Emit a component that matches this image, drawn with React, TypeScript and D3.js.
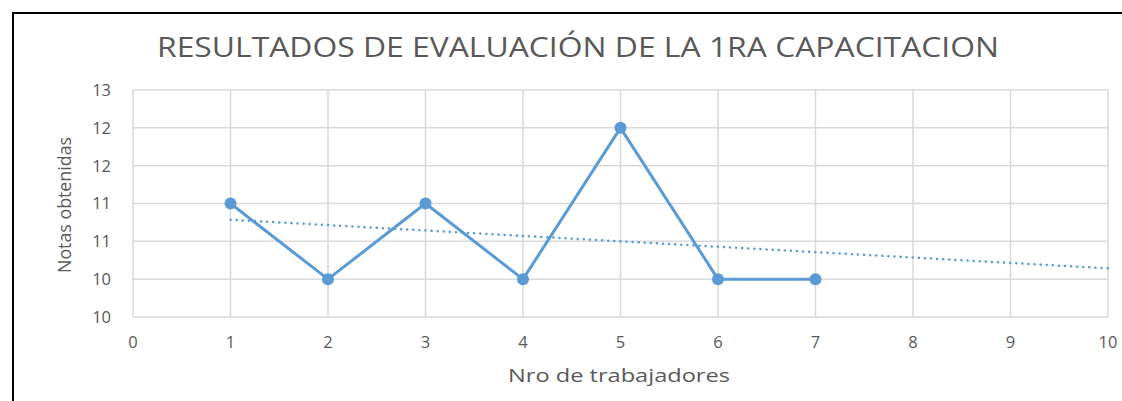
import React from "react";
import * as d3 from "d3";

const title = "RESULTADOS DE EVALUACIÓN DE LA 1RA CAPACITACION";
const xAxisTitle = "Nro de trabajadores";
const yAxisTitle = "Notas obtenidas";
const workers = [1, 2, 3, 4, 5, 6, 7];
const grades = [11.5, 10.5, 11.5, 10.5, 12.5, 10.5, 10.5];
const xTicks = [0, 1, 2, 3, 4, 5, 6, 7, 8, 9, 10];
const yTicks = [10, 10.5, 11, 11.5, 12, 12.5, 13];
const yTickLabels = ["10", "10", "11", "11", "12", "12", "13"];

const W = 1122;
const H = 401;
const color = "#5B9BD5";
const font = "'Open Sans', 'Liberation Sans', sans-serif";

export default function App() {
  const x = d3.scaleLinear().domain([0, 10]).range([133, 1108]);
  const y = d3.scaleLinear().domain([10, 13]).range([317, 90]);

  const line = d3
    .line<number>()
    .x((_, i) => x(workers[i]))
    .y((d) => y(d));

  // linear trendline (least squares) through the data
  const mx = d3.mean(workers)!;
  const my = d3.mean(grades)!;
  const sxy = d3.sum(workers.map((w, i) => (w - mx) * (grades[i] - my)));
  const sxx = d3.sum(workers.map((w) => (w - mx) ** 2));
  const slope = sxy / sxx;
  const intercept = my - slope * mx;
  const tx0 = 1;
  const tx1 = 10;

  return (
    <svg
      width={W}
      height={H}
      style={{ position: "absolute", left: 0, top: 0, background: "#fff" }}
    >
      <rect x={0} y={0} width={W} height={H} fill="#fff" />
      <rect x={13} y={13} width={W + 20} height={H + 20} fill="#fff" stroke="#000" strokeWidth={2} />
      <text
        x={578}
        y={57}
        textAnchor="middle"
        fontFamily={font}
        fontSize={26.5}
        fill="#595959"
        textLength={842}
        lengthAdjust="spacingAndGlyphs"
      >
        {title}
      </text>
      {yTicks.map((t, i) => (
        <line key={"gy" + i} x1={x(0)} x2={x(10)} y1={y(t)} y2={y(t)} stroke="#d9d9d9" strokeWidth={1.5} />
      ))}
      {xTicks.map((t, i) => (
        <line key={"gx" + i} x1={x(t)} x2={x(t)} y1={y(10)} y2={y(13)} stroke="#d9d9d9" strokeWidth={1.5} />
      ))}
      {yTicks.map((t, i) => (
        <text
          key={"ty" + i}
          x={111}
          y={y(t)}
          dy="0.36em"
          textAnchor="end"
          fontFamily={font}
          fontSize={16.5}
          fill="#595959"
        >
          {yTickLabels[i]}
        </text>
      ))}
      {xTicks.map((t, i) => (
        <text
          key={"tx" + i}
          x={x(t)}
          y={342}
          dy="0.36em"
          textAnchor="middle"
          fontFamily={font}
          fontSize={16.5}
          fill="#595959"
        >
          {t}
        </text>
      ))}
      <text
        x={619}
        y={382}
        textAnchor="middle"
        fontFamily={font}
        fontSize={17.5}
        fill="#595959"
        textLength={222}
        lengthAdjust="spacingAndGlyphs"
      >
        {xAxisTitle}
      </text>
      <text
        transform={`translate(71,${205}) rotate(-90)`}
        textAnchor="middle"
        fontFamily={font}
        fontSize={18}
        fill="#595959"
        textLength={136}
        lengthAdjust="spacingAndGlyphs"
      >
        {yAxisTitle}
      </text>
      <line
        x1={x(tx0)}
        y1={y(intercept + slope * tx0)}
        x2={x(tx1)}
        y2={y(intercept + slope * tx1)}
        stroke={color}
        strokeWidth={2.5}
        strokeDasharray="0.1 6"
        strokeLinecap="round"
      />
      <path d={line(grades) || ""} fill="none" stroke={color} strokeWidth={3} strokeLinejoin="round" />
      {grades.map((g, i) => (
        <circle key={"p" + i} cx={x(workers[i])} cy={y(g)} r={6} fill={color} />
      ))}
    </svg>
  );
}
